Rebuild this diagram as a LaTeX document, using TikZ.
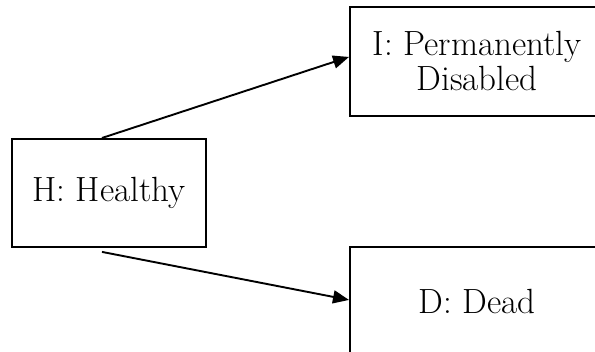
\documentclass[tikz,border=0pt]{standalone}
\usetikzlibrary{arrows.meta}
\begin{document}
\begin{tikzpicture}[x=1pt,y=-1pt,
  box/.style={draw, line width=1.9pt, inner sep=0pt, align=center,
    font=\fontsize{35}{35}\selectfont},
  link/.style={line width=1.9pt, -{Triangle[length=16pt,width=13pt]}}]
\useasboundingbox (0,0) rectangle (595,352);
\clip (0,0) rectangle (595,352);
\node[box, minimum width=194pt, minimum height=108pt, anchor=north west] (H) at (11,138) {H: Healthy};
\node[box, minimum width=254pt, minimum height=109pt, anchor=north west] (I) at (349,6) {I: Permanently\\Disabled};
\node[box, minimum width=254pt, minimum height=110pt, anchor=north west] (D) at (349,246) {D: Dead};
\draw[link] ([xshift=-7pt]H.north) -- ([yshift=4.5pt]I.west);
\draw[link] ([xshift=-7pt,yshift=-4pt]H.south) -- ([yshift=2pt]D.west);
\end{tikzpicture}
\end{document}
